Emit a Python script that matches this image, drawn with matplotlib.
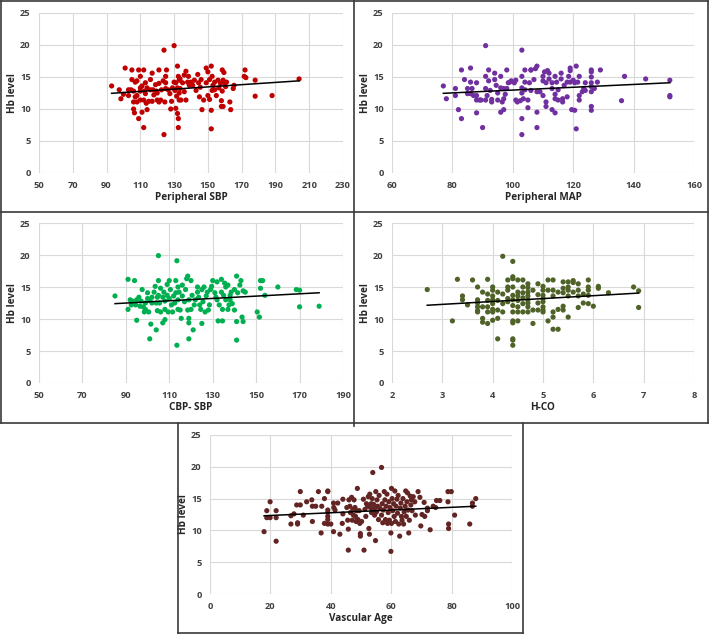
import matplotlib
matplotlib.use("Agg")
import matplotlib.pyplot as plt
from matplotlib.lines import Line2D

plt.rcParams['font.family'] = ['Open Sans', 'DejaVu Sans']

# ---------------- data ----------------
sbp_x = [93,97.5,98.5,100,101,103,103,104.5,105,105,106,106,106,106.5,107,107,108,108,108,109,109,110,110,110,110,111,111,112,112,112,112.5,113,113,113.5,114,114,115,116,116,117,117,117.5,118,119,119.5,120,120,121,121,121,122,122.5,123.5,124,124,124.5,125,125,125,125.5,126.5,127.5,128,128.5,129,130,130,130.5,131,131,131.5,132,132,132,132.5,132.5,132.5,133,133,133,133.5,133.5,134,135,136,136,137,137,138,138.5,139,140,141,142,143,144,144.5,145,145.5,146,146.5,147.5,149,149,150,150,151,151,152,152,152,152.5,152.5,153,154,154,155,156,156.5,157.5,158,158,158.5,158.5,159,159,159.5,160,160.5,161,163,163.5,165,165.5,171.5,172,172.5,178,178,188,204]
sbp_y = [13.6,13.0,11.6,12.3,16.4,13,12.1,13,14.6,16.1,12.8,11.1,10,9.4,11.9,14.2,11.1,12.1,14.4,8.5,16.1,15.1,13.3,12.8,11.4,13.6,9.5,7.1,16.1,11.4,12.8,12.4,14.1,10.9,13.3,9.9,11.2,13.0,14.6,15.6,11.2,13,12.2,13.8,12.8,11.4,12.5,11.1,16.1,14,11.4,13,14.4,19.2,6.0,11.1,13.2,14.1,15.1,16.1,13,12.4,10,11.2,13.3,14.2,19.9,12.9,14.1,10.1,12,13.3,9.3,16.7,8.5,7.1,15.1,14.5,11.4,12.5,14.7,13.2,11.4,14.1,12.7,15.3,15.9,11.4,14.2,15.1,13.7,14.2,13.7,14.5,12.9,15.4,14.1,11.9,13.4,14.6,9.9,11.4,16.4,14.1,15.8,12.1,14.6,11.5,9.8,16.7,6.9,12.9,15.1,13.7,13.0,14.2,12.1,14.5,13.3,14,10.4,11.3,12.8,16.1,14.5,10.4,15.7,14.1,13.5,14.2,11.1,9.9,13.2,13.7,15.1,16.1,14.9,14.5,12.0,12.1,14.7]
sbp_trend_x = [93, 204]
sbp_trend_y = [12.45, 14.4]

map_x = [77,78,81,81,82,83,83,84,85,85,86,86,86,86.5,87,88,88,88,88,89,89.5,90,91,91,91,91,91.5,92,92,92.5,93,93,94,94,94.5,95,95,96,96,96,96.5,97,97,97,97.5,98,98,98.5,99,99.5,100.5,101,101,101.5,102.5,103,103,103,103,103,103,103.5,104,104,104,105,105,105.5,106,106,106,107,107.5,108,108,108,108,109,110,110,110,110.5,111,111,111,111.5,112,112,113,113,113,114,114,114,114,114.5,115,115,116,116,116.5,116.5,117,118,118,118.5,119,119,119,119.5,120,120.5,120.5,121,121,121.5,122,122,122,123,123.5,124,124,126,126,126,126,126,126,126,126,127,128,129,136,137,144,152,152,152]
map_y = [13.6,11.6,13.2,12.1,9.9,8.5,16.1,14.6,13.2,12.4,16.4,14.2,12.4,13.2,12.1,11.4,9.4,14.1,12.1,11.4,11.4,7.1,11.4,13.2,19.9,15.1,12.1,16.1,14.4,12.9,11.5,11.1,15.6,14.6,13.7,12.5,11.4,9.5,15.1,13.3,11.1,9.9,11.6,13.2,12.3,16.1,13.2,14.1,14.2,14.4,14.1,11.4,14.5,11.1,11.3,19.2,6.0,8.5,13.3,15.1,12.5,11.6,14.2,16.1,13,10.2,11.4,14.1,16.1,12.9,16.1,14.6,16.3,16.7,7.1,9.5,12.7,12.7,12.1,14.4,15.1,15.8,10.4,11.1,14.1,16,14.7,15.6,13.2,9.9,14.1,15.1,9.4,12.3,11.6,14.2,11.4,13,15.6,14.7,11.6,11.1,13.7,14.2,11.9,15.1,16.4,16,14.2,9.9,14.5,9.8,14.1,16.7,6.9,14.2,11.4,12.1,15.1,12.7,13.2,14.1,12.9,16.1,15.8,15,14.1,13.5,10.4,9.8,12.7,13.2,14.2,16.1,11.3,15.1,14.7,14.5,12.1,11.9]
map_trend_x = [77, 152]
map_trend_y = [12.45, 14.1]

cbp_x = [85,91,91,92,92.5,93,94,94.5,95,95,96,96.5,97,97.5,98,98.5,99,99,100,100,100.5,101,101,101.5,102,102,103,103.5,104,104,104.5,104.5,105,105,105,105.5,106,106,107,107,107.5,108,108,108,109,109,109.5,110,110,110.5,111,111.5,112,112.5,113,113,113.5,113.5,114,114,114,114.5,115,115.5,116,116,117,117.5,118,118.5,118.5,119,119,119,119,120,120,120.5,121,121.5,122,123,123,123.5,124,124.5,125,125,125.5,126,126.5,127,127.5,128,128.5,129,129.5,130,131,131.5,132,132,132.5,133,134,134,134.5,134.5,135,135.5,136,136,137,137,137.5,138,138,138.5,139,140,140,141,141,141,141.5,142.5,143,143.5,144,144,145,150.5,151.5,152,152,153,154,160,168.5,170,170,179]
cbp_y = [13.6,16.2,11.5,13.0,12.2,12.8,16,12.2,9.8,13,13.4,12,12.8,14.6,11.9,11.1,12.5,11.5,14.1,13.2,11.1,6.9,12.9,9.2,12.5,13.4,14.2,15.1,8.3,12.5,13.4,11.3,19.9,16,13.7,12.5,14.8,11.1,13.4,9.4,14.2,11.5,9.9,12.8,15.4,13.7,11.1,16,13.2,14.6,12.2,11.1,13.6,12.5,16,14.1,19.1,5.9,11.5,15,13,14.2,11.4,10.1,15.3,13.6,12.7,14.6,16.3,16.7,11.4,10.1,9.4,6.9,13,16,11.5,13.7,8.3,12.2,13,15,14.2,13.4,12.2,11.5,9.3,14.6,12.7,15,11.1,13.6,14.2,11.4,12.2,14.6,15.1,16,14.1,13.4,13,15.8,9.7,12.2,16.2,14.2,11.5,9.7,13.7,15.6,15,13,11.5,15.3,12.2,13.7,13,14.2,12.4,11.4,14.6,16.7,9.6,6.7,14.1,15.3,16,10.3,9.6,14.4,14.2,11.1,10.3,14.8,16,16,13.7,15,14.6,14.5,11.9,12]
cbp_trend_x = [85, 179]
cbp_trend_y = [12.4, 14.1]

hco_x = [2.7,3.2,3.3,3.4,3.4,3.5,3.6,3.7,3.7,3.7,3.7,3.7,3.7,3.8,3.8,3.8,3.8,3.9,3.9,3.9,3.9,3.9,3.9,4.0,4.0,4.0,4.0,4.0,4.0,4.0,4.0,4.1,4.1,4.1,4.1,4.1,4.2,4.2,4.2,4.2,4.3,4.3,4.3,4.3,4.3,4.4,4.4,4.4,4.4,4.4,4.4,4.4,4.4,4.4,4.4,4.4,4.4,4.4,4.5,4.5,4.5,4.5,4.5,4.5,4.5,4.6,4.6,4.6,4.6,4.6,4.6,4.7,4.7,4.7,4.7,4.7,4.7,4.7,4.7,4.8,4.8,4.8,4.9,4.9,4.9,4.9,5.0,5.0,5.0,5.0,5.0,5.0,5.0,5.0,5.1,5.1,5.1,5.2,5.2,5.2,5.2,5.2,5.2,5.3,5.3,5.3,5.4,5.4,5.4,5.4,5.4,5.5,5.5,5.5,5.5,5.5,5.6,5.6,5.6,5.7,5.7,5.7,5.7,5.8,5.8,5.9,5.9,5.9,5.9,5.9,6.0,6.1,6.1,6.3,6.8,6.9,6.9]
hco_y = [14.6,9.7,16.2,13.6,13.0,12.2,16.1,15,13,12.5,11.9,11.3,11.1,14.2,10.1,9.5,11.9,16.2,13.9,12.9,11.9,11.1,9.3,15,14.5,13.6,13,12.4,11.5,11.1,9.8,14.2,12.9,11.4,10.1,6.9,19.8,13.9,12.4,11.1,16.1,15,14.5,13.2,12.7,19,16.6,16.3,15,13.7,13,12.1,11.1,9.7,9.4,6.9,6.7,5.9,16.1,14.2,13.6,12.9,11.9,11.1,9.7,16.1,15,14.1,13.3,12.4,11.1,15.5,14.9,14.2,13.6,13,12.5,11.9,11.1,14.5,11.4,9.3,15.5,13.8,12.5,11.4,15.1,14.5,13.7,13.2,12.7,11.9,11.4,11.1,16.1,14.5,9.7,16.1,14.5,13.6,11.1,10.3,8.4,14.2,11.5,8.4,15.8,14.8,14.1,12,11.4,15.8,15,14.5,13.6,10.3,16,15.7,14.2,15.5,14.5,13.6,11.8,13.9,12.5,16.1,15,14.5,13.7,12.4,12,15.1,14.8,14.1,15,14.4,11.8]
hco_trend_x = [2.7, 6.9]
hco_trend_y = [12.15, 14.05]

vage_x = [17.9,18.8,18.8,19.9,19.9,21.9,21.9,21.9,26.8,26.8,27.8,28.7,29,29,29.9,29.9,30.9,32,33.7,33.9,33.9,35,35.9,36.8,37,37.9,37.9,39,39,39,39,39,39,39,40,40.9,40.9,41,41.4,42.3,43,43.8,44,44,45.3,45.6,45.8,45.8,46,46.3,46.5,46.9,47.1,47.3,47.5,47.7,48,48.2,48.4,48.6,48.8,49,49.4,49.6,49.8,49.8,50.2,50.8,51,51.3,51.6,51.8,52.2,52.4,52.6,52.8,52.9,53.1,53.4,53.5,53.7,53.9,54,54.2,54.5,54.7,54.8,54.9,55.1,55.3,55.5,55.8,56,56.2,56.8,56.8,57,57.2,57.4,57.7,57.9,58.1,58.3,58.6,58.8,59,59.2,59.4,59.6,59.9,59.9,60.1,60.1,60.3,60.5,60.8,61,61.2,61.4,61.6,61.9,62.1,62.3,62.5,62.8,63,63.2,63.4,63.6,63.9,64.1,64.3,64.6,64.8,65,65.2,65.4,65.6,65.8,66,66.3,66.5,66.7,66.9,67.3,67.8,68,68.9,69.5,69.8,70.2,70.9,71.1,72,72,72.9,73.9,74.7,75,76.1,78.8,78.8,79,79,79.9,81,86,86.9,86.9,88]
vage_y = [9.8,13.1,12.0,14.5,12,13.1,12,8.3,12.3,11,12.6,14,11.2,11,16.1,14,12.4,14.5,14.8,13.8,11.4,13.8,16.1,9.6,13.8,15,11.1,16.2,16.1,13.2,12.8,12.2,11,11.7,11,9.8,14.3,13.6,13.2,14.3,9.4,11.1,12.6,14.9,13.6,11.6,6.9,10.2,14.8,13.8,12.8,15.2,11.6,13.3,12.4,14.8,13.6,12.2,11.4,13.1,16.6,11.7,13.1,11.1,9.5,9.1,11.4,14.9,6.9,13.3,12.2,14.2,13.8,15.3,10.3,9.4,15.7,13.6,14.2,12.8,15,19.1,13.3,14.1,12.4,13.6,8.4,16.1,12.9,14.8,13.8,11.7,15.5,13.5,19.9,12.4,14.2,11.2,13.2,16.1,14.8,11.7,13.8,15.7,11.1,12.8,14.5,11.6,13.6,6.7,9.6,16.6,11.1,15,13.1,14.2,12.2,16.2,11.4,13.8,14.9,12.7,15.5,11,9.1,13.5,14.3,12.2,11.6,15,11,12.9,13.8,16.2,12.2,14.5,15.9,13.2,9.6,11.6,15.4,14,14.8,13.1,15.3,14.5,12.4,16.1,15.2,10.7,12.5,14.4,12.2,13.5,13.1,10.1,13.8,13.6,14.7,14.7,16.1,14.5,11,10.3,16.1,12.4,11,13.8,14.3,15]
vage_trend_x = [17.9, 88]
vage_trend_y = [12.3, 13.8]

# ---------------- layout ----------------
W, H = 709, 637
fig = plt.figure(figsize=(W / 100, H / 100), dpi=100)

def px_axes(x0, y0, x1, y1):
    return fig.add_axes([x0 / W, 1 - y1 / H, (x1 - x0) / W, (y1 - y0) / H])

TICK_C = '#404040'
TITLE_C = '#262626'

def style(ax, xlim, xticks, xlabel, axw, axh):
    ax.set_xlim(*xlim)
    ax.set_ylim(0, 25)
    ax.set_xticks(xticks)
    ax.set_yticks([0, 5, 10, 15, 20, 25])
    ax.grid(True, color='#d9d9d9', lw=0.8)
    ax.set_axisbelow(True)
    for s in ax.spines.values():
        s.set_visible(False)
    ax.tick_params(length=0, labelsize=6.7, colors=TICK_C, pad=6)
    for lab in ax.get_xticklabels() + ax.get_yticklabels():
        lab.set_fontweight('bold')
    ax.set_xlabel(xlabel, fontsize=7.2, fontweight='bold', color=TITLE_C)
    ax.set_ylabel('Hb level', fontsize=7.2, fontweight='bold', color=TITLE_C)
    ax.yaxis.set_label_coords(-21 / axw, 0.5)
    ax.xaxis.set_label_coords(0.5, -19 / axh)

panels = [
    (sbp_x, sbp_y, sbp_trend_x, sbp_trend_y, '#c00000', (50, 230), list(range(50, 231, 20)), 'Peripheral SBP', (39, 13, 343, 173)),
    (map_x, map_y, map_trend_x, map_trend_y, '#7030a0', (60, 160), list(range(60, 161, 20)), 'Peripheral MAP', (392, 13, 694, 173)),
    (cbp_x, cbp_y, cbp_trend_x, cbp_trend_y, '#00b050', (50, 190), list(range(50, 191, 20)), 'CBP- SBP', (39, 223, 343, 383)),
    (hco_x, hco_y, hco_trend_x, hco_trend_y, '#4f6228', (2, 8), list(range(2, 9)), 'H-CO', (392, 223, 694, 383)),
    (vage_x, vage_y, vage_trend_x, vage_trend_y, '#632523', (0, 100), list(range(0, 101, 20)), 'Vascular Age', (210, 435, 512, 594)),
]

for xs, ys, tx, ty, col, xlim, xt, xl, (x0, y0, x1, y1) in panels:
    ax = px_axes(x0, y0, x1, y1)
    ax.scatter(xs, ys, s=14, color=col, edgecolors='none', zorder=3)
    ax.plot(tx, ty, color='black', lw=1.1, zorder=4)
    style(ax, xlim, xt, xl, x1 - x0, y1 - y0)

# ---------------- panel borders ----------------
BC = '#3a3a3a'
def hline(y, x0, x1):
    fig.add_artist(Line2D([x0 / W, x1 / W], [1 - y / H, 1 - y / H], color=BC, lw=1.2, transform=fig.transFigure))
def vline(x, y0, y1):
    fig.add_artist(Line2D([x / W, x / W], [1 - y0 / H, 1 - y1 / H], color=BC, lw=1.2, transform=fig.transFigure))

hline(1, 1, 708)
hline(212, 1, 708)
hline(423, 1, 708)
vline(1, 1, 423)
vline(708, 1, 423)
vline(354, 1, 426)
vline(178, 423, 633)
vline(523, 423, 633)
hline(633, 178, 523)

fig.savefig('out.png', dpi=100)
